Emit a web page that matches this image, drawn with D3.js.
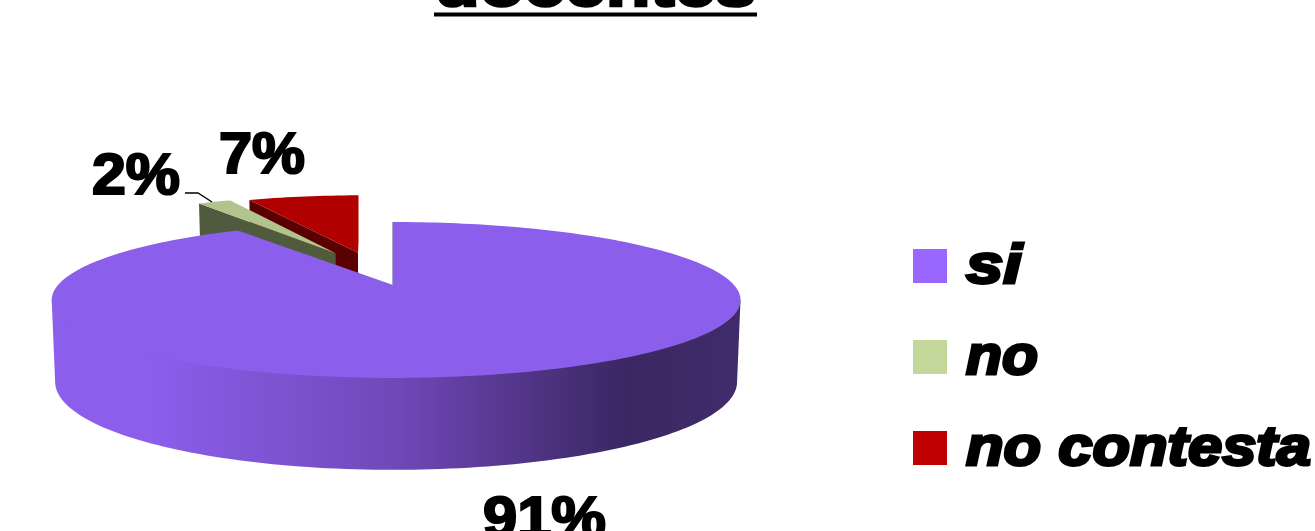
<!DOCTYPE html>
<html lang="es">
<head>
    <meta charset="UTF-8">
    <script src="https://d3js.org/d3.v7.min.js"></script>
    <style>
        html, body { margin: 0; padding: 0; background: #fff; overflow: hidden; }
        text { font-family: "Liberation Sans", Arial, sans-serif; font-weight: bold; fill: #000; stroke: #000; }
    </style>
    <title>docentes</title>
</head>
<body>
    <script type="text/javascript">
    const categories = ["si", "no", "no contesta"];
    const values = [91, 2, 7];
    const titleText = "docentes";

    const w = 1315, h = 531;

    const swatchColor = d3.scaleOrdinal(categories, ["#9966ff", "#c4d79b", "#c00000"]);
    const topColor = d3.scaleOrdinal(categories, ["#8b5fec", "#b2c48e", "#b00000"]);
    const sideColor = d3.scaleOrdinal(categories, ["#3d2a66", "#505a3c", "#5a0000"]);

    // how far each slice is pulled out of the pie, in disc units
    const explode = d3.scaleOrdinal(categories, [[0, 0], [-0.185, 0.46], [-0.113, 0.47]]);
    // pulled out slices look a bit longer than the big one
    const stretch = d3.scaleOrdinal(categories, [[1, 1], [1.015, 1.08], [1.015, 1.08]]);

    // perspective of the disc: things further back get smaller
    const persp = 0.192;
    function project(a, b, bottom) {
        const k = 1 + persp * b;
        const sx = a / k, sy = b / k;
        const x = 393 + (bottom ? 0.99 : 1) * 338 * sx + 3 * sx * sx;
        const y = bottom ? 365 - 84.7 * sy : 285 - 75.1 * sy;
        return [x, y];
    }

    const svg = d3.select("body").append("svg")
        .attr("width", w)
        .attr("height", h)
        .style("display", "block");

    const line = d3.line();
    const pie = d3.pie().sort(null).value(function(d) { return d.value; });
    const slices = pie(categories.map(function(c, i) { return { name: c, value: values[i] }; }));

    function rimPoint(name, t, bottom) {
        const off = explode(name), s = stretch(name);
        return project(off[0] + s[0] * Math.sin(t), off[1] + s[1] * Math.cos(t), bottom);
    }

    function rim(d, bottom) {
        const n = Math.max(2, Math.ceil((d.endAngle - d.startAngle) * 40));
        return d3.range(n + 1).map(function(i) {
            return rimPoint(d.data.name, d.startAngle + (d.endAngle - d.startAngle) * i / n, bottom);
        });
    }

    const defs = svg.append("defs");

    // gradient on the round side of the big slice
    const grad = defs.append("linearGradient")
        .attr("id", "sideGrad")
        .attr("gradientUnits", "userSpaceOnUse")
        .attr("x1", 52).attr("x2", 740).attr("y1", 0).attr("y2", 0);
    [[0, "#8b5fec"], [0.14, "#8b5fec"], [0.5, "#7048b8"], [0.83, "#3b2763"], [1, "#402c6a"]].forEach(function(s) {
        grad.append("stop").attr("offset", s[0]).attr("stop-color", s[1]);
    });

    // the red slice ends on a straight vertical edge
    defs.append("clipPath").attr("id", "redClip")
        .append("rect").attr("x", 0).attr("y", 0).attr("width", 358.5).attr("height", h);

    // painted back to front: red, green, then the big slice on top
    const order = [slices[2], slices[1], slices[0]];

    order.forEach(function(d) {
        const name = d.data.name;
        const off = explode(name);
        const clip = name === "no contesta" ? "url(#redClip)" : null;
        const startTop = rimPoint(name, d.startAngle, false);
        const startBot = rimPoint(name, d.startAngle, true);
        const apexTop = project(off[0], off[1], false);
        const apexBot = project(off[0], off[1], true);

        if (name === "si") {
            // round side, only the part that faces us
            const t0 = Math.acos(-persp), t1 = 2 * Math.PI - t0;
            const arc = d3.range(121).map(function(i) { return t0 + (t1 - t0) * i / 120; });
            // upper edge runs a little inside the top so no white seam shows
            const upper = arc.map(function(t) { return project(0.97 * Math.sin(t), 0.97 * Math.cos(t), false); });
            const lower = arc.map(function(t) { return project(Math.sin(t), Math.cos(t), true); }).reverse();
            const ends = [project(Math.sin(t0), Math.cos(t0), false), project(Math.sin(t1), Math.cos(t1), false)];
            svg.append("path")
                .attr("d", line([ends[0]].concat(upper, [ends[1]], lower)) + "Z")
                .attr("fill", "url(#sideGrad)");
            // start edge is seen exactly edge on
            svg.append("path")
                .attr("d", line([startTop, apexTop]))
                .attr("stroke", "#5d4a86")
                .attr("stroke-width", 1)
                .attr("fill", "none");
        } else {
            // flat cut face of the pulled out slices
            svg.append("path")
                .attr("d", line([startTop, apexTop, apexBot, startBot]) + "Z")
                .attr("fill", sideColor(name))
                .attr("clip-path", clip);
        }

        svg.append("path")
            .attr("d", line([apexTop].concat(rim(d, false))) + "Z")
            .attr("fill", topColor(name))
            .attr("clip-path", clip);
    });

    // percent labels
    const labelPos = d3.scaleOrdinal(categories, [[483, 537], [92, 194], [219, 173]]);
    const labelLen = d3.scaleOrdinal(categories, [123, 88, 86]);
    svg.selectAll("text.pct")
        .data(slices)
        .enter()
        .append("text")
        .attr("class", "pct")
        .text(function(d) { return d.data.value + "%"; })
        .attr("x", function(d) { return labelPos(d.data.name)[0]; })
        .attr("y", function(d) { return labelPos(d.data.name)[1]; })
        .attr("textLength", function(d) { return labelLen(d.data.name); })
        .attr("lengthAdjust", "spacingAndGlyphs")
        .attr("font-size", 57)
        .attr("stroke-width", 2.2);

    // leader line for the 2%
    svg.append("path")
        .attr("d", line([[185, 193], [198, 193], [212, 202]]))
        .attr("fill", "none")
        .attr("stroke", "#000")
        .attr("stroke-width", 1.4);

    // legend
    const legendY = d3.scalePoint(categories, [266, 448]);
    const legendLen = d3.scaleOrdinal(categories, [56, 72, 345]);
    const legend = svg.selectAll("g.legend")
        .data(categories)
        .enter()
        .append("g")
        .attr("class", "legend")
        .attr("transform", function(d) { return "translate(913," + legendY(d) + ")"; });
    legend.append("rect")
        .attr("y", -17)
        .attr("width", 34)
        .attr("height", 34)
        .attr("fill", function(d) { return swatchColor(d); });
    legend.append("text")
        .text(function(d) { return d; })
        .attr("x", 53)
        .attr("y", 17)
        .attr("textLength", function(d) { return legendLen(d); })
        .attr("lengthAdjust", "spacingAndGlyphs")
        .attr("font-size", 56)
        .attr("font-style", "italic")
        .attr("stroke-width", 3);

    // title, cut off by the top of the picture
    svg.append("text")
        .text(titleText)
        .attr("x", 435)
        .attr("y", 6)
        .attr("textLength", 321)
        .attr("lengthAdjust", "spacingAndGlyphs")
        .attr("font-size", 62)
        .attr("stroke-width", 2.5);
    svg.append("rect")
        .attr("x", 434)
        .attr("y", 12.5)
        .attr("width", 323)
        .attr("height", 4)
        .attr("fill", "#000");
    </script>
</body>
</html>
